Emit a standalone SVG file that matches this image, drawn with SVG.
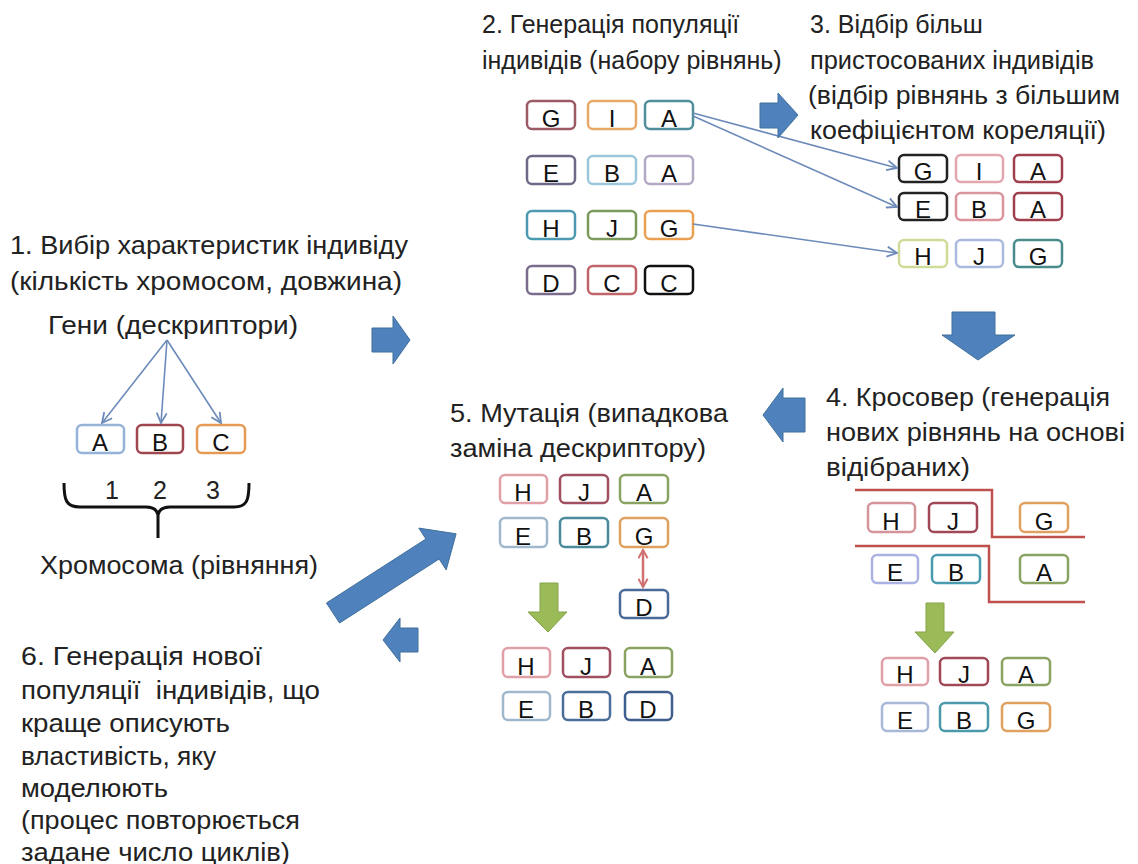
<svg xmlns="http://www.w3.org/2000/svg" width="1138" height="864" viewBox="0 0 1138 864">
<defs>
<style>
.lbl{font-family:"Liberation Sans","Noto Sans",sans-serif;font-size:25px;fill:#222}
.num{font-family:"Liberation Sans","Noto Sans",sans-serif;font-size:25px;fill:#222;text-anchor:middle}
.bx rect{fill:#fff;stroke-width:2.5}
.bx text{font-family:"Liberation Sans","Noto Sans",sans-serif;font-size:24px;fill:#111;text-anchor:middle}
.thin{stroke:#6d8bba;stroke-width:1.6;fill:none;marker-end:url(#vh)}
.blk{fill:#4f81bd;stroke:#41719c;stroke-width:1}
.grn{fill:#9bbb59;stroke:#84a348;stroke-width:1}
</style>
<marker id="vh" viewBox="0 0 12 12" refX="11" refY="6" markerWidth="12" markerHeight="12" markerUnits="userSpaceOnUse" orient="auto"><path d="M1,1 L11,6 L1,11" fill="none" stroke="#6d8bba" stroke-width="1.8"/></marker>
<marker id="rh" viewBox="0 0 12 12" refX="10" refY="6" markerWidth="11" markerHeight="11" markerUnits="userSpaceOnUse" orient="auto-start-reverse"><path d="M1,1 L10,6 L1,11" fill="none" stroke="#d07070" stroke-width="2.2"/></marker>
</defs>
<rect width="1138" height="864" fill="#fff"/>

<!-- Labels -->
<g id="label1">
<text class="lbl" x="10" y="254" textLength="398" lengthAdjust="spacingAndGlyphs">1. Вибір характеристик індивіду</text>
<text class="lbl" x="10" y="290" textLength="392" lengthAdjust="spacingAndGlyphs">(кількість хромосом, довжина)</text>
<text class="lbl" x="48" y="334" textLength="250" lengthAdjust="spacingAndGlyphs">Гени (дескриптори)</text>
<text class="lbl" x="40" y="574" textLength="278" lengthAdjust="spacingAndGlyphs">Хромосома (рівняння)</text>
<text class="num" x="112" y="499">1</text>
<text class="num" x="160" y="499">2</text>
<text class="num" x="213" y="499">3</text>
</g>
<g id="label2">
<text class="lbl" x="482" y="33">2. Генерація популяції</text>
<text class="lbl" x="482" y="69">індивідів (набору рівнянь)</text>
</g>
<g id="label3">
<text class="lbl" x="810" y="33">3. Відбір більш</text>
<text class="lbl" x="810" y="69" textLength="284" lengthAdjust="spacingAndGlyphs">пристосованих індивідів</text>
<text class="lbl" x="808" y="104" textLength="312" lengthAdjust="spacingAndGlyphs">(відбір рівнянь з більшим</text>
<text class="lbl" x="810" y="139" textLength="296" lengthAdjust="spacingAndGlyphs">коефіцієнтом кореляції)</text>
</g>
<g id="label4">
<text class="lbl" x="826" y="406" textLength="284" lengthAdjust="spacingAndGlyphs">4. Кросовер (генерація</text>
<text class="lbl" x="826" y="441" textLength="299" lengthAdjust="spacingAndGlyphs">нових рівнянь на основі</text>
<text class="lbl" x="826" y="476" textLength="144" lengthAdjust="spacingAndGlyphs">відібраних)</text>
</g>
<g id="label5">
<text class="lbl" x="450" y="422" textLength="278" lengthAdjust="spacingAndGlyphs">5. Мутація (випадкова</text>
<text class="lbl" x="450" y="457" textLength="256" lengthAdjust="spacingAndGlyphs">заміна дескриптору)</text>
</g>
<g id="label6">
<text class="lbl" x="21" y="665" textLength="241" lengthAdjust="spacingAndGlyphs">6. Генерація нової</text>
<text class="lbl" x="21" y="699" textLength="299" lengthAdjust="spacingAndGlyphs" xml:space="preserve">популяції  індивідів, що</text>
<text class="lbl" x="21" y="732" textLength="209" lengthAdjust="spacingAndGlyphs">краще описують</text>
<text class="lbl" x="21" y="765" textLength="195" lengthAdjust="spacingAndGlyphs">властивість, яку</text>
<text class="lbl" x="21" y="797" textLength="147" lengthAdjust="spacingAndGlyphs">моделюють</text>
<text class="lbl" x="21" y="829" textLength="279" lengthAdjust="spacingAndGlyphs">(процес повторюється</text>
<text class="lbl" x="21" y="861" textLength="269" lengthAdjust="spacingAndGlyphs">задане число циклів)</text>
</g>

<!-- Section 1 chromosome -->
<g id="s1" class="bx">
<g id="s1A"><rect x="77" y="425" width="47" height="28" rx="5" stroke="#95b3d7"/><text x="100" y="451">A</text></g>
<g id="s1B"><rect x="137" y="425" width="46" height="28" rx="5" stroke="#a0464e"/><text x="160" y="451">B</text></g>
<g id="s1C"><rect x="197" y="425" width="48" height="28" rx="5" stroke="#e59b55"/><text x="221" y="451">C</text></g>
</g>
<g id="brace">
<path d="M64,483 C64,500 66,507 80,507 L146,507 C153,507 157,509 158,515 L158,538 M158,515 C159,509 163,507 170,507 L234,507 C247,507 249,500 249,483" fill="none" stroke="#111" stroke-width="3"/>
</g>

<!-- Section 2 population -->
<g id="s2" class="bx">
<g id="s2r1c1"><rect x="527" y="101" width="48" height="28" rx="5" stroke="#9b5a64"/><text x="551" y="127">G</text></g>
<g id="s2r1c2"><rect x="588" y="101" width="48" height="28" rx="5" stroke="#e8a868"/><text x="612" y="127">I</text></g>
<g id="s2r1c3"><rect x="645" y="101" width="48" height="28" rx="5" stroke="#4f8e9a"/><text x="669" y="127">A</text></g>
<g id="s2r2c1"><rect x="527" y="156" width="48" height="28" rx="5" stroke="#6c6a86"/><text x="551" y="182">E</text></g>
<g id="s2r2c2"><rect x="588" y="156" width="48" height="28" rx="5" stroke="#9cc6dc"/><text x="612" y="182">B</text></g>
<g id="s2r2c3"><rect x="645" y="156" width="48" height="28" rx="5" stroke="#b3a9c4"/><text x="669" y="182">A</text></g>
<g id="s2r3c1"><rect x="527" y="211" width="48" height="28" rx="5" stroke="#4c9ab2"/><text x="551" y="237">H</text></g>
<g id="s2r3c2"><rect x="588" y="211" width="48" height="28" rx="5" stroke="#7c9a5c"/><text x="612" y="237">J</text></g>
<g id="s2r3c3"><rect x="645" y="211" width="48" height="28" rx="5" stroke="#e9a052"/><text x="669" y="237">G</text></g>
<g id="s2r4c1"><rect x="527" y="266" width="48" height="28" rx="5" stroke="#7a6c8c"/><text x="551" y="292">D</text></g>
<g id="s2r4c2"><rect x="588" y="266" width="48" height="28" rx="5" stroke="#c0646a"/><text x="612" y="292">C</text></g>
<g id="s2r4c3"><rect x="645" y="266" width="48" height="28" rx="5" stroke="#111"/><text x="669" y="292">C</text></g>
</g>

<!-- Section 3 selected -->
<g id="s3" class="bx">
<g id="s3r1c1"><rect x="899" y="155" width="48" height="27" rx="5" stroke="#222"/><text x="923" y="180">G</text></g>
<g id="s3r1c2"><rect x="956" y="155" width="47" height="27" rx="5" stroke="#e3a6ae"/><text x="979" y="180">I</text></g>
<g id="s3r1c3"><rect x="1014" y="155" width="48" height="27" rx="5" stroke="#a0404e"/><text x="1038" y="180">A</text></g>
<g id="s3r2c1"><rect x="899" y="193" width="48" height="27" rx="5" stroke="#222"/><text x="923" y="218">E</text></g>
<g id="s3r2c2"><rect x="956" y="193" width="47" height="27" rx="5" stroke="#d9949c"/><text x="979" y="218">B</text></g>
<g id="s3r2c3"><rect x="1014" y="193" width="48" height="27" rx="5" stroke="#a0404e"/><text x="1038" y="218">A</text></g>
<g id="s3r3c1"><rect x="899" y="240" width="48" height="27" rx="5" stroke="#cfdc98"/><text x="923" y="265">H</text></g>
<g id="s3r3c2"><rect x="956" y="240" width="47" height="27" rx="5" stroke="#aabade"/><text x="979" y="265">J</text></g>
<g id="s3r3c3"><rect x="1014" y="240" width="48" height="27" rx="5" stroke="#4a8c8c"/><text x="1038" y="265">G</text></g>
</g>

<!-- Section 4 crossover -->
<g id="s4cut">
<path d="M855,490 L992,490 L992,537 L1085,537" fill="none" stroke="#c0504d" stroke-width="2.5"/>
<path d="M855,546 L989,546 L989,602 L1085,602" fill="none" stroke="#c0504d" stroke-width="2.5"/>
</g>
<g id="s4" class="bx">
<g id="s4r1c1"><rect x="868" y="503" width="47" height="29" rx="5" stroke="#d4949c"/><text x="891" y="530">H</text></g>
<g id="s4r1c2"><rect x="929" y="503" width="48" height="29" rx="5" stroke="#a04858"/><text x="953" y="530">J</text></g>
<g id="s4r1c3"><rect x="1020" y="503" width="48" height="29" rx="5" stroke="#e0a060"/><text x="1044" y="530">G</text></g>
<g id="s4r2c1"><rect x="872" y="555" width="46" height="28" rx="5" stroke="#aab2e2"/><text x="895" y="581">E</text></g>
<g id="s4r2c2"><rect x="932" y="555" width="48" height="28" rx="5" stroke="#4a9ab0"/><text x="956" y="581">B</text></g>
<g id="s4r2c3"><rect x="1020" y="555" width="48" height="28" rx="5" stroke="#8aa262"/><text x="1044" y="581">A</text></g>
<g id="s4r3c1"><rect x="882" y="658" width="46" height="27" rx="5" stroke="#e0a0a8"/><text x="905" y="683">H</text></g>
<g id="s4r3c2"><rect x="940" y="658" width="48" height="27" rx="5" stroke="#a04858"/><text x="964" y="683">J</text></g>
<g id="s4r3c3"><rect x="1002" y="658" width="48" height="27" rx="5" stroke="#8aa262"/><text x="1026" y="683">A</text></g>
<g id="s4r4c1"><rect x="882" y="703" width="46" height="28" rx="5" stroke="#a8b8d6"/><text x="905" y="729">E</text></g>
<g id="s4r4c2"><rect x="940" y="703" width="48" height="28" rx="5" stroke="#4a9aaa"/><text x="964" y="729">B</text></g>
<g id="s4r4c3"><rect x="1002" y="703" width="48" height="28" rx="5" stroke="#e0a060"/><text x="1026" y="729">G</text></g>
</g>

<!-- Section 5 mutation -->
<g id="s5" class="bx">
<g id="s5r1c1"><rect x="500" y="475" width="47" height="28" rx="5" stroke="#e0a0a8"/><text x="523" y="501">H</text></g>
<g id="s5r1c2"><rect x="560" y="475" width="48" height="28" rx="5" stroke="#a05060"/><text x="584" y="501">J</text></g>
<g id="s5r1c3"><rect x="620" y="475" width="48" height="28" rx="5" stroke="#8aa262"/><text x="644" y="501">A</text></g>
<g id="s5r2c1"><rect x="500" y="518" width="47" height="29" rx="5" stroke="#a0b8cc"/><text x="523" y="545">E</text></g>
<g id="s5r2c2"><rect x="560" y="518" width="48" height="29" rx="5" stroke="#4a8a9a"/><text x="584" y="545">B</text></g>
<g id="s5r2c3"><rect x="620" y="518" width="48" height="29" rx="5" stroke="#e0a060"/><text x="644" y="545">G</text></g>
<g id="s5D"><rect x="620" y="590" width="48" height="28" rx="5" stroke="#4a6a9a"/><text x="644" y="616">D</text></g>
<g id="s5r3c1"><rect x="503" y="648" width="47" height="29" rx="5" stroke="#e0a0a8"/><text x="526" y="675">H</text></g>
<g id="s5r3c2"><rect x="563" y="648" width="47" height="29" rx="5" stroke="#a05060"/><text x="586" y="675">J</text></g>
<g id="s5r3c3"><rect x="625" y="648" width="47" height="29" rx="5" stroke="#8aa262"/><text x="648" y="675">A</text></g>
<g id="s5r4c1"><rect x="503" y="692" width="47" height="28" rx="5" stroke="#a0b8cc"/><text x="526" y="718">E</text></g>
<g id="s5r4c2"><rect x="563" y="692" width="47" height="28" rx="5" stroke="#4a6e9a"/><text x="586" y="718">B</text></g>
<g id="s5r4c3"><rect x="625" y="692" width="47" height="28" rx="5" stroke="#3e5e8e"/><text x="648" y="718">D</text></g>
</g>

<!-- Connectors -->
<g id="connectors">
<line class="thin" x1="167" y1="340" x2="102" y2="423"/>
<line class="thin" x1="167" y1="340" x2="161" y2="423"/>
<line class="thin" x1="167" y1="340" x2="221" y2="423"/>
<line class="thin" x1="693" y1="113" x2="897" y2="168"/>
<line class="thin" x1="693" y1="116" x2="897" y2="207"/>
<line class="thin" x1="693" y1="224" x2="897" y2="253"/>
<line x1="643" y1="550" x2="643" y2="587" stroke="#d07070" stroke-width="2.5" marker-start="url(#rh)" marker-end="url(#rh)"/>
<polygon class="blk" points="372,328 393,328 393,316 410,340 393,364 393,352 372,352"/>
<polygon class="blk" points="760,103 778,103 778,93 798,115 778,138 778,128 760,128"/>
<polygon class="blk" points="952,312 995,312 995,335 1015,335 978,360 942,335 952,335"/>
<polygon class="blk" points="805,398 783,398 783,388 763,415 783,442 783,432 805,432"/>
<polygon class="blk" points="326.4,603 425.9,539 418.8,528.1 456.1,533.8 446.2,569.9 439.1,559 339.6,623"/>
<polygon class="blk" points="418,628 400,628 400,618 383,640 400,662 400,652 418,652"/>
<polygon class="grn" points="926,603 944,603 944,632 954,632 935,653 915,632 926,632"/>
<polygon class="grn" points="540,583 558,583 558,612 567,612 548,632 528,612 540,612"/>
</g>
</svg>
